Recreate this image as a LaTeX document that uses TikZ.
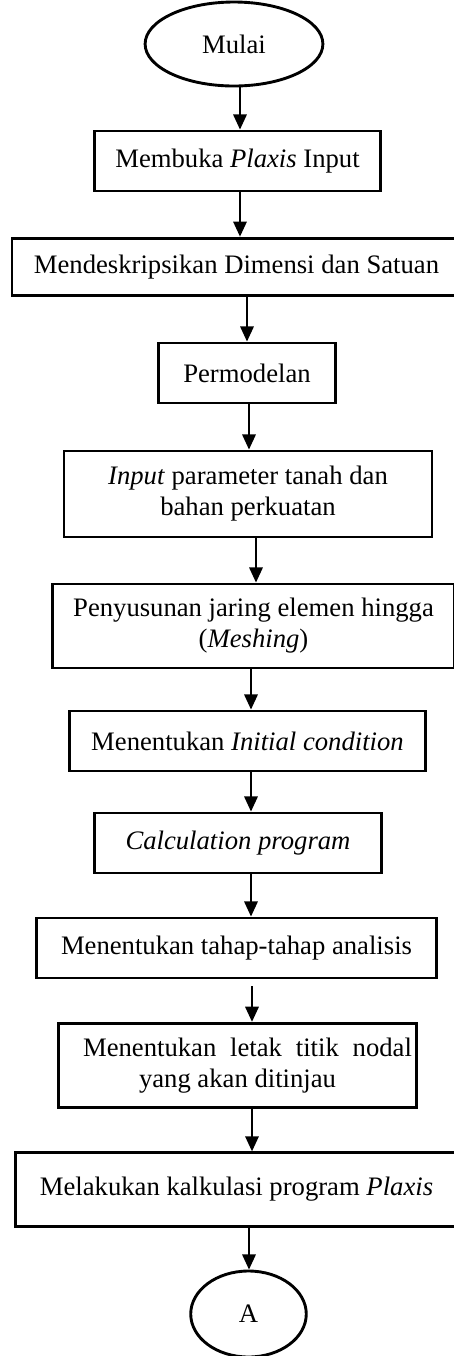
\documentclass[tikz,border=0pt]{standalone}
\usepackage{fontspec}
\setmainfont{Liberation Serif}
\usetikzlibrary{shapes}
\usetikzlibrary{arrows.meta}
\tikzset{
  kotak/.style={draw, rectangle, line width=1.3pt, align=center, inner sep=2pt,
    font=\fontsize{12}{14}\selectfont},
  elips/.style={draw, ellipse, line width=1.3pt, inner sep=0pt,
    font=\fontsize{12}{14}\selectfont},
  panah/.style={line width=1pt, -{Triangle[width=6pt,length=6.8pt]}}
}

\begin{document}
\begin{tikzpicture}[x=0.45pt,y=-0.45pt]
  \useasboundingbox (0,0) rectangle (453,1356);
  \node[elips, minimum width=80pt, minimum height=37.8pt] (mulai) at (234,44) {Mulai};
  \node[kotak, minimum width=129pt, minimum height=27pt] (buka) at (237.5,161) {Membuka \textit{Plaxis} Input};
  \node[kotak, minimum width=202pt, minimum height=26pt] (dimensi) at (236.5,267) {Mendeskripsikan Dimensi dan Satuan};
  \node[kotak, minimum width=80pt, minimum height=27pt] (model) at (247,373) {Permodelan};
  \node[kotak, minimum width=165.6pt, minimum height=38.7pt] (parameter) at (248,494) {\textit{Input} parameter tanah dan\\ bahan perkuatan};
  \node[kotak, minimum width=181pt, minimum height=37.8pt] (meshing) at (253.5,626) {Penyusunan jaring elemen hingga\\ (\textit{Meshing})};
  \node[kotak, minimum width=160pt, minimum height=27pt] (initial) at (247.5,741) {Menentukan \textit{Initial condition}};
  \node[kotak, minimum width=129pt, minimum height=27pt] (hitung) at (238,843) {\textit{Calculation program}};
  \node[kotak, minimum width=180pt, minimum height=27pt] (tahap) at (236.5,948) {Menentukan tahap-tahap analisis};
  \node[kotak, minimum width=160pt, minimum height=38pt] (nodal) at (237.5,1065.5) {\hspace*{9pt}\makebox[148pt][s]{Menentukan letak titik nodal}\\ yang akan ditinjau};
  \node[kotak, minimum width=198.5pt, minimum height=33pt] (plaxis) at (236.5,1189.5) {Melakukan kalkulasi program \textit{Plaxis}};
  \node[elips, minimum width=52pt, minimum height=38.7pt] (a) at (248.5,1314) {A};

  \foreach \a/\b/\x in {mulai/buka/240, buka/dimensi/240, dimensi/model/247,
      model/parameter/249, parameter/meshing/256, meshing/initial/251,
      initial/hitung/251, hitung/tahap/251, nodal/plaxis/252, plaxis/a/249}
    \draw[panah] (\a.south -| \x,0) -- (\b.north -| \x,0);
  \draw[panah, shorten <=3pt] (tahap.south -| 252,0) -- (nodal.north -| 252,0);
\end{tikzpicture}
\end{document}
